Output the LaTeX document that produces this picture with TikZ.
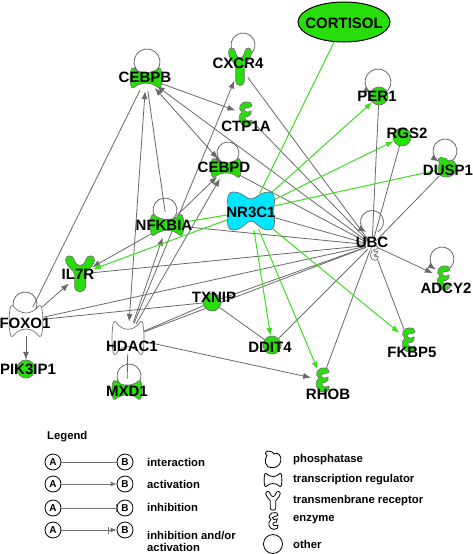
\documentclass[tikz,border=0pt]{standalone}
\usepackage{fontspec}
\setmainfont{Liberation Sans}
\usetikzlibrary{arrows.meta,shapes.geometric}
\definecolor{ngreen}{RGB}{40,222,10}
\definecolor{egreen}{RGB}{60,222,30}
\definecolor{ncyan}{RGB}{0,230,255}
\definecolor{egray}{RGB}{105,105,105}
\definecolor{sgray}{RGB}{115,115,115}
\tikzset{
  treg/.pic={\path[pic actions] (-14,-11) .. controls (-6,-4) and (6,-4) .. (14,-11) .. controls (19,-14) and (19,14) .. (14,11) .. controls (6,4) and (-6,4) .. (-14,11) .. controls (-19,14) and (-19,-14) .. (-14,-11) -- cycle;},
  nrec/.pic={\path[pic actions] (-18,-19) .. controls (-8,-19) and (-5,-12) .. (0,-12) .. controls (5,-12) and (8,-19) .. (18,-19) .. controls (25,-19) and (24,-8) .. (22,0) .. controls (24,8) and (25,19) .. (18,19) .. controls (8,19) and (5,10) .. (0,10) .. controls (-5,10) and (-8,19) .. (-18,19) .. controls (-25,19) and (-24,8) .. (-22,0) .. controls (-24,-8) and (-25,-19) .. (-18,-19) -- cycle;},
  tmr/.pic={\path[pic actions] (-12,-13) .. controls (-13,-18) and (-6,-19) .. (-5,-14) .. controls (-4,-10) and (-2,-8) .. (0,-8) .. controls (2,-8) and (4,-10) .. (5,-14) .. controls (6,-19) and (13,-18) .. (12,-13) .. controls (11,-6) and (5,-4) .. (4.5,0) -- (4.5,13) .. controls (4.5,18) and (-4.5,18) .. (-4.5,13) -- (-4.5,0) .. controls (-5,-4) and (-11,-6) .. (-12,-13) -- cycle;},
  enz/.pic={\path[pic actions] (3,-12) .. controls (-5,-13) and (-8,-5) .. (-3,-2) .. controls (-8,1) and (-7,12) .. (2,12) .. controls (6,12) and (8,9) .. (7,6) .. controls (4,8) and (-1,7) .. (0,3) .. controls (4,3) and (7,0) .. (6,-3) .. controls (3,-1) and (-1,-2) .. (-1,-5) .. controls (1,-7) and (5,-6) .. (7,-8) .. controls (7,-11) and (5,-12) .. (3,-12) -- cycle;},
  phos/.pic={\path[pic actions] (-3,-10) .. controls (-8,-12) and (-11,-8) .. (-7,-5) .. controls (-11,-1) and (-10,9) .. (-1,9) .. controls (8,9) and (10,2) .. (9,-3) .. controls (8,-8) and (3,-9) .. (1,-7) .. controls (0,-9) and (-1,-10) .. (-3,-10) -- cycle;},
}
\begin{document}
\begin{tikzpicture}[x=1pt,y=-1pt,
  hub/.style={circle,inner sep=0pt,minimum size=#1,draw=none},
  ehub/.style 2 args={ellipse,inner sep=0pt,minimum width=#1,minimum height=#2,draw=none},
  edge/.style={draw=egray,line width=0.8pt},
  arr/.style={edge,-{Latex[length=8pt,width=6pt]}},
  darr/.style={edge,{Latex[length=8pt,width=6pt]}-{Latex[length=8pt,width=6pt]}},
  gline/.style={draw=egreen,line width=1pt},
  garr/.style={gline,-{Latex[length=8pt,width=6pt]}},
  gsh/.style={fill=ngreen,draw=sgray,line width=0.7pt},
  wsh/.style={fill=white,draw=sgray,line width=0.7pt},
  lbl/.style={font=\bfseries\fontsize{15}{17}\selectfont,inner sep=0pt,text=black},
  legt/.style={font=\bfseries\fontsize{11.3}{12.5}\selectfont,inner sep=0pt,anchor=west,align=left},
  abc/.style={circle,draw=black,line width=0.8pt,minimum size=16,inner sep=0pt,font=\bfseries\fontsize{10}{10}\selectfont},
  legl/.style={draw=sgray,line width=0.8pt},
]
\useasboundingbox (0,0) rectangle (473,554);
\fill[white] (0,0) rectangle (473,554);

% anchor nodes
\node[ehub={92}{40}] (CORTISOL) at (344,22) {};
\node[hub=26] (CEBPB) at (146,78) {};
\node[ehub={20}{32}] (CXCR4) at (240,67) {};
\node[hub=20] (CTP1A) at (245,114) {};
\node[hub=24] (CEBPD) at (226,168) {};
\node[ehub={48}{38}] (NR3C1) at (251,211) {};
\node[hub=26] (NFKBIA) at (167,225) {};
\node[ehub={26}{34}] (IL7R) at (80,274) {};
\node[hub=30] (FOXO1) at (26,321) {};
\node[hub=18] (PIK3IP1) at (26,369) {};
\node[hub=32] (HDAC1) at (128,338) {};
\node[hub=22] (MXD1) at (127,390) {};
\node[hub=18] (TXNIP) at (212,302) {};
\node[hub=18] (DDIT4) at (272,345) {};
\node[hub=22] (RHOB) at (322,380) {};
\node[hub=22] (FKBP5) at (408,340) {};
\node[hub=22] (ADCY2) at (443,278) {};
\node[hub=12] (UBC) at (372,245) {};
\node[hub=18] (PER1) at (379,96) {};
\node[hub=18] (RGS2) at (402,137) {};
\node[hub=22] (DUSP1) at (447,168) {};

% gray connectors
\draw[arr] (CEBPB) -- (CTP1A);
\draw[darr] (CEBPB) -- (CEBPD);
\draw[arr] (UBC) -- (CEBPB);
\draw[edge] (FOXO1) -- (CEBPB);
\draw[darr] (CEBPB) -- (HDAC1);
\draw[edge] (CEBPB) -- (NFKBIA);
\draw[arr] (HDAC1) -- (NFKBIA);
\draw[arr] (HDAC1) -- (CEBPD);
\draw[arr] (HDAC1) -- (CXCR4);
\draw[edge] (HDAC1) -- (MXD1);
\draw[edge] (HDAC1) -- (TXNIP);
\draw[edge] (HDAC1) -- (UBC);
\draw[arr] (HDAC1) -- (RHOB);
\draw[arr] (NFKBIA) -- (IL7R);
\draw[arr] (NFKBIA) -- (CEBPD);
\draw[edge] (NFKBIA) -- (UBC);
\draw[arr] (FOXO1) -- (IL7R);
\draw[arr] (FOXO1) -- (PIK3IP1);
\draw[edge] (FOXO1) -- (UBC);
\draw[edge] (FOXO1) -- (TXNIP);
\draw[edge] (IL7R) -- (UBC);
\draw[edge] (TXNIP) -- (DDIT4);
\draw[edge] (TXNIP) -- (UBC);
\draw[edge] (CXCR4) -- (UBC);
\draw[edge] (CTP1A) -- (UBC);
\draw[edge] (CEBPD) -- (UBC);
\draw[edge] (NR3C1) -- (UBC);
\draw[edge] (UBC) -- (PER1);
\draw[edge] (UBC) -- (RGS2);
\draw[edge] (UBC) -- (DUSP1);
\draw[arr] (UBC) -- (ADCY2);
\draw[edge] (UBC) -- (FKBP5);
\draw[edge] (UBC) -- (RHOB);
\draw[edge] (UBC) -- (DDIT4);

% green connectors
\draw[gline] (CORTISOL) -- (NR3C1);
\draw[garr] (NR3C1) -- (PER1);
\draw[garr] (NR3C1) -- (RGS2);
\draw[gline] (NR3C1) -- (DUSP1);
\draw[garr] (NR3C1) -- (IL7R);
\draw[gline] (NR3C1) -- (NFKBIA);
\draw[garr] (NR3C1) -- (DDIT4);
\draw[garr] (NR3C1) -- (RHOB);
\draw[garr] (NR3C1) -- (FKBP5);

% self loops
\draw[arr] ([shift={(1,-16)}]CEBPB.center) ++(60:13) arc[start angle=60,end angle=-240,radius=13];
\draw[arr] ([shift={(3,-22)}]CXCR4.center) ++(60:12) arc[start angle=60,end angle=-240,radius=12];
\draw[arr] ([shift={(2,-15)}]CEBPD.center) ++(60:11) arc[start angle=60,end angle=-240,radius=11];
\draw[arr] ([shift={(-2,-15)}]NFKBIA.center) ++(60:12) arc[start angle=60,end angle=-240,radius=12];
\draw[arr] ([shift={(-1,-17)}]FOXO1.center) ++(60:12) arc[start angle=60,end angle=-240,radius=12];
\draw[arr] ([shift={(2,-14)}]MXD1.center) ++(60:12) arc[start angle=60,end angle=-240,radius=12];
\draw[arr] ([shift={(0,-23)}]UBC.center) ++(60:11.5) arc[start angle=60,end angle=-240,radius=11.5];
\draw[arr] ([shift={(-1,-19)}]ADCY2.center) ++(60:12) arc[start angle=60,end angle=-240,radius=12];
\draw[arr] ([shift={(-1,-14)}]PER1.center) ++(60:13) arc[start angle=60,end angle=-240,radius=13];
\draw[arr] ([shift={(-2,-17)}]DUSP1.center) ++(60:12) arc[start angle=60,end angle=-240,radius=12];

% shapes
\path[fill=ngreen,draw=black,line width=1pt] (CORTISOL.center) ellipse[x radius=46,y radius=20];
\pic[gsh,scale=0.9] at (CEBPB.center) {treg};
\pic[gsh,xscale=0.95,yscale=1.1] at (CXCR4.center) {tmr};
\pic[gsh] at (CTP1A.center) {enz};
\pic[gsh,scale=0.85] at (CEBPD.center) {treg};
\pic[fill=ncyan,draw=sgray,line width=0.7pt] at (NR3C1.center) {nrec};
\pic[gsh,scale=0.95] at (NFKBIA.center) {treg};
\pic[gsh,xscale=1.2,yscale=1.05] at (IL7R.center) {tmr};
\pic[wsh,xscale=0.95,yscale=1.4] at (FOXO1.center) {treg};
\path[gsh] (PIK3IP1.center) circle[radius=9];
\pic[wsh,xscale=0.9,yscale=1.5] at (HDAC1.center) {treg};
\pic[gsh,scale=0.85] at (MXD1.center) {treg};
\path[gsh] (TXNIP.center) circle[radius=9];
\path[gsh] (DDIT4.center) circle[radius=9];
\pic[gsh] at (RHOB.center) {enz};
\pic[gsh] at (FKBP5.center) {enz};
\pic[gsh] at (ADCY2.center) {enz};
\pic[wsh,scale=0.6] at ([shift={(2,8)}]UBC.center) {enz};
\path[gsh] (PER1.center) circle[radius=9];
\path[gsh] (RGS2.center) circle[radius=9];
\pic[gsh] at (DUSP1.center) {phos};

% labels
\node[lbl] (tCORTISOL) at (344,23) {CORTISOL};
\node[lbl] (tCEBPB) at (145,77) {CEBPB};
\node[lbl] (tCXCR4) at (238,63) {CXCR4};
\node[lbl] (tCTP1A) at (246,126) {CTP1A};
\node[lbl] (tCEBPD) at (224,167) {CEBPD};
\node[lbl] (tNR3C1) at (251,212) {NR3C1};
\node[lbl] (tNFKBIA) at (164,225) {NFKBIA};
\node[lbl] (tIL7R) at (78,274) {IL7R};
\node[lbl] (tFOXO1) at (25,323) {FOXO1};
\node[lbl] (tPIK3IP1) at (28,369) {PIK3IP1};
\node[lbl] (tHDAC1) at (132,346) {HDAC1};
\node[lbl] (tMXD1) at (127,391) {MXD1};
\node[lbl] (tTXNIP) at (214,297) {TXNIP};
\node[lbl] (tDDIT4) at (270,347) {DDIT4};
\node[lbl] (tRHOB) at (328,394) {RHOB};
\node[lbl] (tFKBP5) at (412,352) {FKBP5};
\node[lbl] (tADCY2) at (446,288) {ADCY2};
\node[lbl] (tUBC) at (372,242) {UBC};
\node[lbl] (tPER1) at (377,96) {PER1};
\node[lbl] (tRGS2) at (407,133) {RGS2};
\node[lbl] (tDUSP1) at (448,170) {DUSP1};

% legend
\node[legt] (legtitle) at (47,437) {Legend};
\node[abc] (la1) at (53,462) {A};
\node[abc] (lb1) at (125,462) {B};
\node[abc] (la2) at (53,484) {A};
\node[abc] (lb2) at (125,484) {B};
\node[abc] (la3) at (53,508) {A};
\node[abc] (lb3) at (125,508) {B};
\node[abc] (la4) at (53,530) {A};
\node[abc] (lb4) at (125,530) {B};
\coordinate (lbar) at (108.5,530);
\draw[legl] (la1) -- (lb1);
\draw[legl,-{Latex[length=6pt,width=5pt]}] (la2) -- (lb2);
\draw[legl,-{Bar[width=8pt]}] (la3) -- (lb3);
\draw[legl,-{Latex[length=6pt,width=5pt]}] (la4) -- (lb4);
\draw[legl] ([yshift=-3.5pt]lbar) -- ([yshift=3.5pt]lbar);
\node[legt] (lt1) at (147,462) {interaction};
\node[legt] (lt2) at (147,484) {activation};
\node[legt] (lt3) at (147,507) {inhibition};
\node[legt,anchor=north west] (lt4) at (147,531) {inhibition and/or\\activation};

\pic[fill=white,draw=black,line width=0.8pt,scale=0.85] at (273,460) {phos};
\pic[fill=white,draw=black,line width=0.8pt,xscale=0.5,yscale=0.6] at (273,480) {treg};
\pic[fill=white,draw=black,line width=0.8pt,xscale=0.6,yscale=0.55] at (273,501) {tmr};
\pic[fill=white,draw=black,line width=0.8pt,scale=0.7] at (273,521) {enz};
\node[circle,draw=black,line width=0.8pt,minimum size=19,inner sep=0pt] (lother) at (273,544) {};
\node[legt] (rt1) at (293,460) {phosphatase};
\node[legt] (rt2) at (293,480) {transcription regulator};
\node[legt] (rt3) at (293,501) {transmenbrane receptor};
\node[legt] (rt4) at (293,520) {enzyme};
\node[legt] (rt5) at (293,544) {other};
\end{tikzpicture}
\end{document}
